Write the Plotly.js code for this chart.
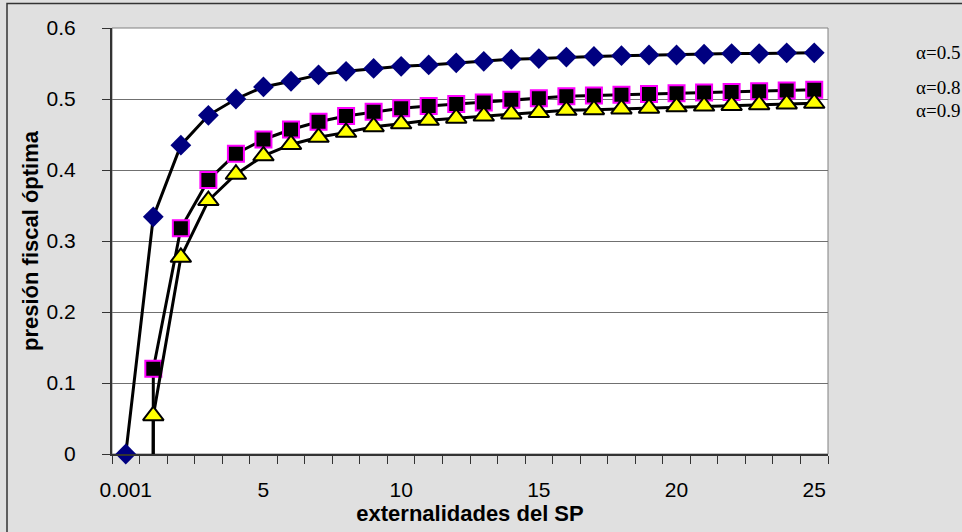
<!DOCTYPE html>
<html>
<head>
<meta charset="utf-8">
<script src="https://cdn.plot.ly/plotly-3.0.1.min.js"></script>
<style>html,body{margin:0;padding:0;background:#e0e0e0;}#chart{width:962px;height:532px;}</style>
</head>
<body>
<div id="chart"></div>
<script>
// categories on the x axis (externalidades del SP)
const categories = ['0.001','1','2','3','4','5','6','7','8','9','10','11','12','13','14','15','16','17','18','19','20','21','22','23','24','25'];
// tick labels shown (every 5th category)
const tickLabels = ['0.001','','','','','5','','','','','10','','','','','15','','','','','20','','','','','25'];
// series names
const seriesNames = ['α=0.5','α=0.8','α=0.9'];
// presión fiscal óptima, α=0.5
const alpha05 = [0, 0.334, 0.435, 0.477, 0.500, 0.517, 0.525, 0.534, 0.539, 0.543, 0.546, 0.548, 0.551, 0.553, 0.556, 0.557, 0.559, 0.560, 0.561, 0.562, 0.562, 0.563, 0.564, 0.564, 0.565, 0.565];
// α=0.8 (first value far below the axis)
const alpha08 = [-30, 0.120, 0.318, 0.386, 0.423, 0.443, 0.457, 0.468, 0.476, 0.482, 0.487, 0.490, 0.493, 0.495, 0.499, 0.501, 0.504, 0.505, 0.506, 0.507, 0.508, 0.509, 0.510, 0.511, 0.512, 0.513];
// α=0.9 (first value far below the axis)
const alpha09 = [-30, 0.054, 0.277, 0.357, 0.394, 0.420, 0.436, 0.446, 0.453, 0.461, 0.465, 0.470, 0.473, 0.476, 0.479, 0.481, 0.484, 0.485, 0.486, 0.487, 0.489, 0.490, 0.491, 0.492, 0.493, 0.494];

const traces = [
  {x: categories, y: alpha05, name: seriesNames[0], type: 'scatter', mode: 'lines+markers', cliponaxis: false,
   line: {color: '#000000', width: 3},
   marker: {symbol: 'diamond', size: 16, color: '#000080', line: {width: 0}}},
  {x: categories, y: alpha08, name: seriesNames[1], type: 'scatter', mode: 'lines+markers', cliponaxis: false,
   line: {color: '#000000', width: 3},
   marker: {symbol: 'square', size: 16, color: '#000000', line: {color: '#ff00ff', width: 2}}},
  {x: categories, y: alpha09, name: seriesNames[2], type: 'scatter', mode: 'lines+markers', cliponaxis: false,
   line: {color: '#000000', width: 3},
   marker: {symbol: 'triangle-up', size: 18, color: '#ffff00', line: {color: '#000000', width: 2}}}
];

const pw = 716, ph = 426, ml = 112, mt = 28;
function px(x){ return (x - ml) / pw; }
function py(y){ return (mt + ph - y) / ph; }

const layout = {
  width: 962, height: 532,
  margin: {l: ml, r: 962 - ml - pw, t: mt, b: 532 - mt - ph},
  paper_bgcolor: '#e0e0e0',
  plot_bgcolor: '#ffffff',
  showlegend: false,
  font: {family: 'Liberation Sans, Arial, sans-serif', size: 21, color: '#000000'},
  xaxis: {
    type: 'category', range: [-0.5, 25.5], tickmode: 'array', tickvals: categories, ticktext: tickLabels,
    tickson: 'boundaries', ticks: 'outside', ticklen: 8, tickcolor: '#333333', tickwidth: 1, tickangle: 0,
    showgrid: false, showline: true, linecolor: '#333333', linewidth: 2, zeroline: false,
    tickfont: {size: 21}, ticklabelstandoff: 16,
    title: {text: 'externalidades del SP', font: {size: 22, weight: 'bold'}, standoff: 2}
  },
  yaxis: {
    range: [0, 0.6], dtick: 0.1, tick0: 0, ticks: 'outside', ticklen: 8, tickcolor: '#333333',
    showgrid: true, gridcolor: '#707070', gridwidth: 1, zeroline: false,
    showline: true, linecolor: '#333333', linewidth: 2,
    tickfont: {size: 21}, ticklabelstandoff: 22,
    title: {text: 'presión fiscal óptima', font: {size: 22, weight: 'bold'}, standoff: 2}
  },
  shapes: [
    {type: 'rect', xref: 'paper', yref: 'paper', x0: 0, x1: 1, y0: 0, y1: 1, line: {color: '#808080', width: 1}, layer: 'below'},
    {type: 'rect', xref: 'paper', yref: 'paper', x0: px(7), x1: px(980), y0: py(3.5), y1: py(560), line: {color: '#333333', width: 1.5}}
  ],
  annotations: [
    {text: seriesNames[0], xref: 'paper', yref: 'paper', x: px(914), y: py(53), xanchor: 'left', yanchor: 'middle', showarrow: false, font: {family: 'Liberation Serif, Times New Roman, serif', size: 19}},
    {text: seriesNames[1], xref: 'paper', yref: 'paper', x: px(914), y: py(87), xanchor: 'left', yanchor: 'middle', showarrow: false, font: {family: 'Liberation Serif, Times New Roman, serif', size: 19}},
    {text: seriesNames[2], xref: 'paper', yref: 'paper', x: px(914), y: py(110), xanchor: 'left', yanchor: 'middle', showarrow: false, font: {family: 'Liberation Serif, Times New Roman, serif', size: 19}}
  ]
};

Plotly.newPlot('chart', traces, layout, {displayModeBar: false, staticPlot: true});
</script>
</body>
</html>
